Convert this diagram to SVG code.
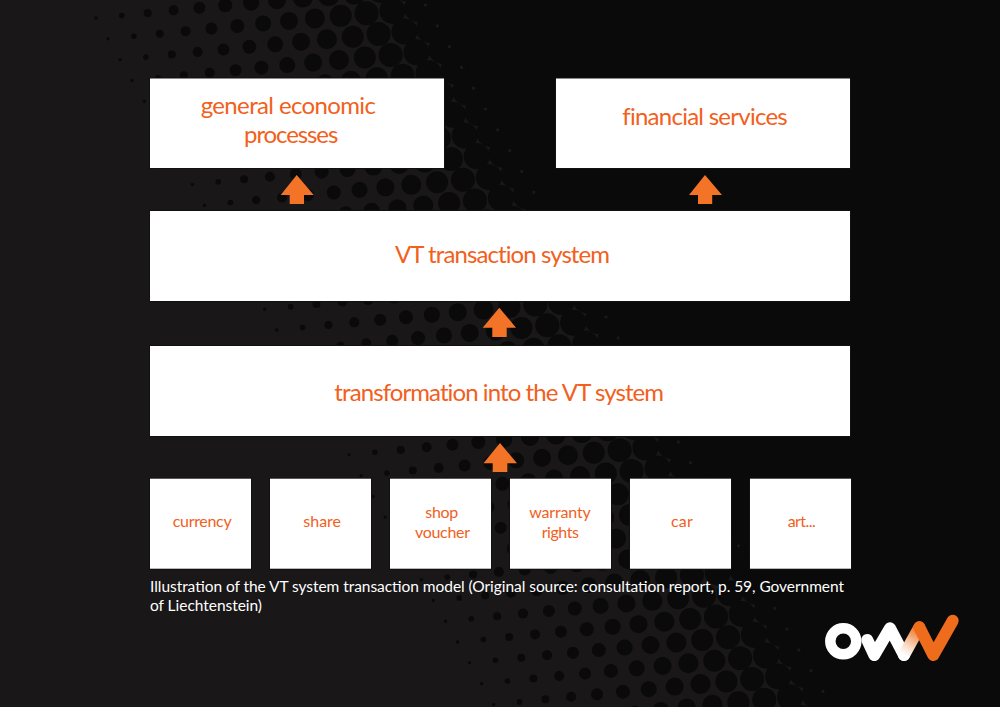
<svg xmlns="http://www.w3.org/2000/svg" width="1000" height="707" viewBox="0 0 1000 707">
<style>
.d{stroke:#0a0a0a;stroke-linecap:round;fill:none}
.l{stroke:#1c191a;stroke-linecap:round;stroke-width:3.2;stroke-dasharray:0 24.04;fill:none}
.box{fill:#fff;stroke:#111;stroke-width:2;paint-order:stroke}
.t{font-family:"Lato","Liberation Sans",sans-serif;fill:#f2601c;text-anchor:middle;font-weight:400;font-variant-ligatures:none}
.big{font-size:24px}
.small{font-size:16px}
.cap{font-family:"Lato","Liberation Sans",sans-serif;fill:#fff;font-size:15.5px;font-weight:400}
.arrow{fill:#f47427}
.logo{fill:none;stroke-width:12;stroke-linecap:round;stroke-linejoin:round}
</style>
<defs>
<linearGradient id="fade" gradientUnits="userSpaceOnUse" x1="904" y1="655" x2="919.3" y2="627.3">
<stop offset="0" stop-color="#fff"/>
<stop offset="0.3" stop-color="#fbdcc6"/>
<stop offset="1" stop-color="#ee6c1c"/>
</linearGradient>
</defs>
<g id="background">
<rect width="1000" height="707" fill="#1a1718"/>
<polygon points="382.1,-54.2 840,736.2 1000,736.2 1000,-54.2" fill="#0a0a0a"/>
<g stroke-dasharray="0 24.04">
<line class="d" stroke-width="3.4" x1="71.9" y1="-23.6" x2="529.8" y2="766.8"/>
<line class="d" stroke-width="5.6" x1="97.75" y1="-26.15" x2="555.65" y2="764.25"/>
<line class="d" stroke-width="8" x1="123.6" y1="-28.7" x2="581.5" y2="761.7"/>
<line class="d" stroke-width="10" x1="149.45" y1="-31.25" x2="607.35" y2="759.15"/>
<line class="d" stroke-width="12" x1="175.3" y1="-33.8" x2="633.2" y2="756.6"/>
<line class="d" stroke-width="14" x1="201.15" y1="-36.35" x2="659.05" y2="754.05"/>
<line class="d" stroke-width="16" x1="227" y1="-38.9" x2="684.9" y2="751.5"/>
<line class="d" stroke-width="18" x1="252.85" y1="-41.45" x2="710.75" y2="748.95"/>
<line class="d" stroke-width="20" x1="278.7" y1="-44" x2="736.6" y2="746.4"/>
<line class="d" stroke-width="22" x1="304.55" y1="-46.55" x2="762.45" y2="743.85"/>
<line class="d" stroke-width="24" x1="330.4" y1="-49.1" x2="788.3" y2="741.3"/>
<line class="d" stroke-width="26" x1="356.25" y1="-51.65" x2="814.15" y2="738.75"/>
<line class="d" stroke-width="28" x1="382.1" y1="-54.2" x2="840" y2="736.2"/>
</g>
<line class="l" x1="413.25" y1="-15.8" x2="835" y2="712.2"/>
</g>
<g id="connectors">
<polygon class="arrow" points="296.7,175 313.7,195 304,195 304,204 289.7,204 289.7,195 280.7,195"/>
<polygon class="arrow" points="705,175 722,195 712.2,195 712.2,204 698,204 698,195 689,195"/>
<polygon class="arrow" points="499.3,307.7 516,327.7 506.7,327.7 506.7,337 492.3,337 492.3,327.7 482.7,327.7"/>
<polygon class="arrow" points="500,443 517,463.3 507.3,463.3 507.3,472 492.7,472 492.7,463.3 483.5,463.3"/>
</g>
<g id="node-general">
<rect class="box" x="150" y="78.5" width="294" height="89.5"/>
<text class="t big" x="288.3" y="114" textLength="175.3">general economic</text>
<text class="t big" x="291.2" y="142.5" textLength="94.3">processes</text>
</g>
<g id="node-financial">
<rect class="box" x="556" y="78.5" width="294" height="89.5"/>
<text class="t big" x="705" y="125" textLength="165.5">financial services</text>
</g>
<g id="node-vt">
<rect class="box" x="150" y="211" width="700" height="90"/>
<text class="t big" x="502.5" y="263" textLength="215">VT transaction system</text>
</g>
<g id="node-transformation">
<rect class="box" x="150" y="346" width="700" height="90"/>
<text class="t big" x="499.2" y="401" textLength="329.7">transformation into the VT system</text>
</g>
<g id="node-currency">
<rect class="box" x="150" y="478.7" width="101" height="90"/>
<text class="t small" x="202.200" y="527" textLength="59">currency</text>
</g>
<g id="node-share">
<rect class="box" x="270" y="478.7" width="101" height="90"/>
<text class="t small" x="322.200" y="527" textLength="37.7">share</text>
</g>
<g id="node-shop-voucher">
<rect class="box" x="390" y="478.7" width="101" height="90"/>
<text class="t small" x="441.800" y="518" textLength="33">shop</text>
<text class="t small" x="442.500" y="538" textLength="55">voucher</text>
</g>
<g id="node-warranty-rights">
<rect class="box" x="510" y="478.7" width="101" height="90"/>
<text class="t small" x="560" y="518" textLength="61.400">warranty</text>
<text class="t small" x="560.300" y="538" textLength="37.300">rights</text>
</g>
<g id="node-car">
<rect class="box" x="630" y="478.7" width="101" height="90"/>
<text class="t small" x="681.900" y="527" textLength="21.700">car</text>
</g>
<g id="node-art">
<rect class="box" x="750" y="478.7" width="101" height="90"/>
<text class="t small" x="801.700" y="527" textLength="28">art...</text>
</g>
<g id="caption">
<text class="cap" x="150" y="591.5" textLength="694">Illustration of the VT system transaction model (Original source: consultation report, p. 59, Government</text>
<text class="cap" x="150" y="610.5" textLength="112">of Liechtenstein)</text>
</g>
<g id="logo">
<circle cx="843.3" cy="641.3" r="13" fill="none" stroke="#fff" stroke-width="10.5"/>
<polyline class="logo" stroke="#fff" points="867.3,640 874.3,655 890,628.3 904,655"/>
<line class="logo" stroke="url(#fade)" x1="904" y1="655" x2="919.3" y2="627.3"/>
<polyline class="logo" stroke="#ee6c1c" points="919.3,627.3 933.3,655 952.7,620.7"/>
</g>
</svg>
